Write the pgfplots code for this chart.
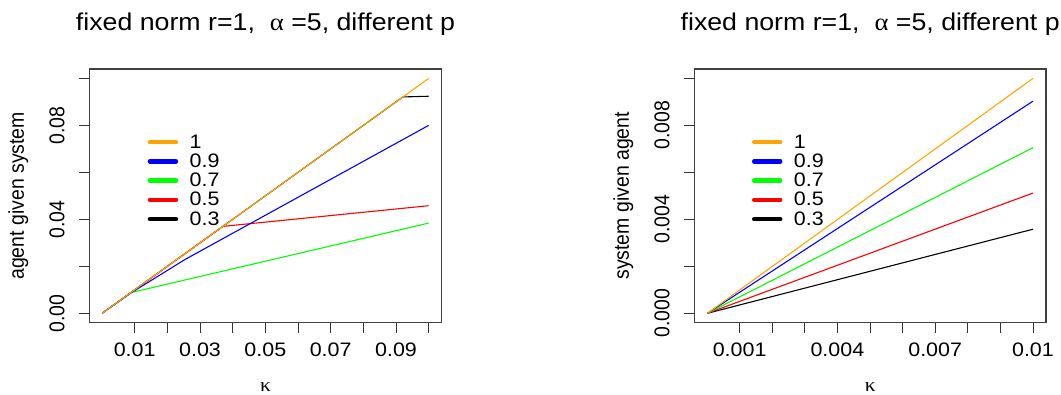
\documentclass[border=0pt]{standalone}
\usepackage{fontspec}
\setmainfont{Liberation Sans}[FakeStretch=1.1]
\newfontfamily\rotfont{Liberation Sans}[FakeStretch=0.909]
\newfontfamily\greekfont{Liberation Serif}[FakeStretch=1.1]
\usepackage{pgfplots}
\pgfplotsset{compat=1.18}
\definecolor{rorange}{RGB}{255,165,0}
\definecolor{rblue}{RGB}{0,0,255}
\definecolor{rgreen}{RGB}{0,255,0}
\definecolor{rred}{RGB}{255,0,0}
\pgfplotsset{
  rstyle/.style={
    scale only axis,
    anchor=south west,
    height=253.7pt,
    axis line style={black!75, line width=1.1pt},
    tick align=outside,
    major tick length=10pt,
    tick style={black!80, line width=0.9pt},
    xtick pos=left, ytick pos=left,
    scaled ticks=false,
    xticklabel style={font=\fontsize{19.5}{19.5}\selectfont, anchor=north, inner sep=0pt},
    xticklabel shift=9.6pt,
    yticklabel style={font=\rotfont\fontsize{21.4}{21.4}\selectfont, rotate=90, anchor=south, inner sep=0pt},
    yticklabel shift=14.6pt,
    every axis title/.style={at={(axis description cs:0.5,1.1498)}, anchor=base, inner sep=0pt,
      font=\fontsize{24.3}{24.3}\selectfont},
    every axis x label/.style={at={(axis description cs:0.5,-0.2712)}, anchor=base, inner sep=0pt,
      font=\greekfont\fontsize{19.5}{19.5}\selectfont},
    every axis y label/.style={at={(axis description cs:-0.2017,0.5)}, rotate=90, anchor=center, inner sep=0pt,
      font=\rotfont\fontsize{21.4}{21.4}\selectfont},
    legend image code/.code={\draw[##1, line width=4.5pt, line cap=round] (0pt,0pt) -- (26pt,0pt);},
    legend style={draw=none, fill=none, inner sep=0pt, outer sep=0pt,
      nodes={inner sep=0pt, font=\fontsize{19.5}{19.5}\selectfont},
      column sep=11.5pt, row sep=4.15pt, anchor=north west},
    legend cell align=left,
    every axis plot/.append style={line width=1.1pt},
  }
}
\begin{document}
\begin{tikzpicture}
\path[use as bounding box] (0pt,0pt) rectangle (1061pt,394pt);
% ---------------- left panel ----------------
\begin{axis}[rstyle,
  at={(89.3pt,71.3pt)}, width=352.4pt,
  xmin=-0.003896, xmax=0.103996, ymin=-0.004, ymax=0.104,
  xtick={0.01,0.02,0.03,0.04,0.05,0.06,0.07,0.08,0.09,0.1},
  xticklabels={0.01,,0.03,,0.05,,0.07,,0.09,},
  ytick={0,0.02,0.04,0.06,0.08,0.1},
  yticklabels={0.00,,0.04,,0.08,},
  title={fixed norm r=1,\ \ {\greekfont α}\ =5, different p},
  xlabel={κ},
  ylabel={agent given system},
  legend style={at={(axis description cs:0.1657,0.741)}},
]
\addlegendimage{rorange}\addlegendentry{1}
\addlegendimage{rblue}\addlegendentry{0.9}
\addlegendimage{rgreen}\addlegendentry{0.7}
\addlegendimage{rred}\addlegendentry{0.5}
\addlegendimage{black}\addlegendentry{0.3}
\addplot[black, forget plot] coordinates {(0.0001,0.0001) (0.0921,0.0921) (0.1,0.0924)};
\addplot[rred, forget plot] coordinates {(0.0001,0.0001) (0.037,0.037) (0.1,0.0458)};
\addplot[rgreen, forget plot] coordinates {(0.0001,0.0001) (0.0091,0.0089) (0.1,0.0384)};
\addplot[rblue, forget plot] coordinates {(0.0001,0.0001) (0.009,0.0088) (0.0254,0.0229) (0.1,0.08)};
\addplot[rorange, forget plot] coordinates {(0.0001,0.0001) (0.1,0.1)};
\end{axis}
% ---------------- right panel ----------------
\begin{axis}[rstyle,
  at={(694.3pt,71.3pt)}, width=351.7pt,
  xmin=-0.0003896, xmax=0.0103996, ymin=-0.0004, ymax=0.0104,
  xtick={0.001,0.002,0.003,0.004,0.005,0.006,0.007,0.008,0.009,0.01},
  xticklabels={0.001,,,0.004,,,0.007,,,0.01},
  ytick={0,0.002,0.004,0.006,0.008,0.01},
  yticklabels={0.000,,0.004,,0.008,},
  title={fixed norm r=1,\ \ {\greekfont α}\ =5, different p},
  xlabel={κ},
  ylabel={system given agent},
  legend style={at={(axis description cs:0.164,0.741)}},
]
\addlegendimage{rorange}\addlegendentry{1}
\addlegendimage{rblue}\addlegendentry{0.9}
\addlegendimage{rgreen}\addlegendentry{0.7}
\addlegendimage{rred}\addlegendentry{0.5}
\addlegendimage{black}\addlegendentry{0.3}
\addplot[black, forget plot] coordinates {(0.00001,0) (0.01,0.00358)};
\addplot[rred, forget plot] coordinates {(0.00001,0) (0.01,0.00512)};
\addplot[rgreen, forget plot] coordinates {(0.00001,0) (0.01,0.00705)};
\addplot[rblue, forget plot] coordinates {(0.00001,0) (0.01,0.00903)};
\addplot[rorange, forget plot] coordinates {(0.00001,0) (0.01,0.01)};
\end{axis}
\end{tikzpicture}
\end{document}
